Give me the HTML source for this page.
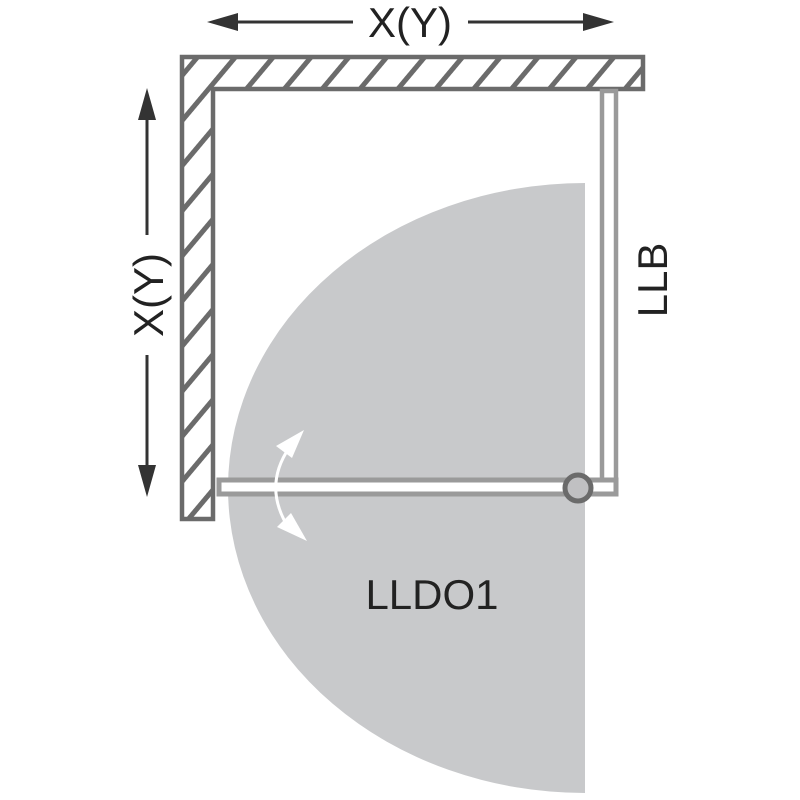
<!DOCTYPE html>
<html><head><meta charset="utf-8"><style>html,body{margin:0;padding:0;background:#fff}svg{display:block}</style></head>
<body>
<svg width="800" height="800" viewBox="0 0 800 800" xmlns="http://www.w3.org/2000/svg">
<defs>
<pattern id="h" patternUnits="userSpaceOnUse" width="29" height="29" patternTransform="rotate(40)">
<line x1="14" y1="0" x2="14" y2="29" stroke="#6b6b6b" stroke-width="5"/>
</pattern>
<clipPath id="c"><rect x="0" y="0" width="585" height="800"/></clipPath>
</defs>
<rect width="800" height="800" fill="#fff"/>
<ellipse cx="585" cy="488" rx="357" ry="305" fill="#c8c9cb" clip-path="url(#c)"/>
<path d="M182,57 H643 V89 H213 V519 H182 Z" fill="url(#h)" stroke="#6b6b6b" stroke-width="4.5"/>
<rect x="602" y="91" width="14" height="395" fill="#fff" stroke="#9a9a9a" stroke-width="4.5"/>
<rect x="219" y="480" width="397" height="14" fill="#fff" stroke="#9a9a9a" stroke-width="5"/>
<circle cx="578" cy="488" r="13" fill="#c0c0c2" stroke="#6b6b6b" stroke-width="5"/>
<path d="M289,448 Q262,488 290,530" fill="none" stroke="#fff" stroke-width="3"/>
<polygon points="304,430 276,446 292,458" fill="#fff"/>
<polygon points="307,541 277,527 291,513" fill="#fff"/>
<g stroke="#333" stroke-width="3">
<line x1="225" y1="22" x2="353" y2="22"/>
<line x1="468" y1="22" x2="596" y2="22"/>
<line x1="147" y1="110" x2="147" y2="235"/>
<line x1="147" y1="355" x2="147" y2="475"/>
</g>
<g fill="#333">
<polygon points="207,22 238,13 238,31"/>
<polygon points="614,22 583,13 583,31"/>
<polygon points="147,88 138,120 156,120"/>
<polygon points="147,497 138,465 156,465"/>
</g>
<g font-family="'Liberation Sans',sans-serif" fill="#222" font-size="42">
<text x="410" y="37" text-anchor="middle">X(Y)</text>
<text transform="translate(163,295) rotate(-90)" text-anchor="middle">X(Y)</text>
<text transform="translate(667,280) rotate(-90)" text-anchor="middle">LLB</text>
<text x="432" y="609" text-anchor="middle">LLDO1</text>
</g>
</svg>
</body></html>
